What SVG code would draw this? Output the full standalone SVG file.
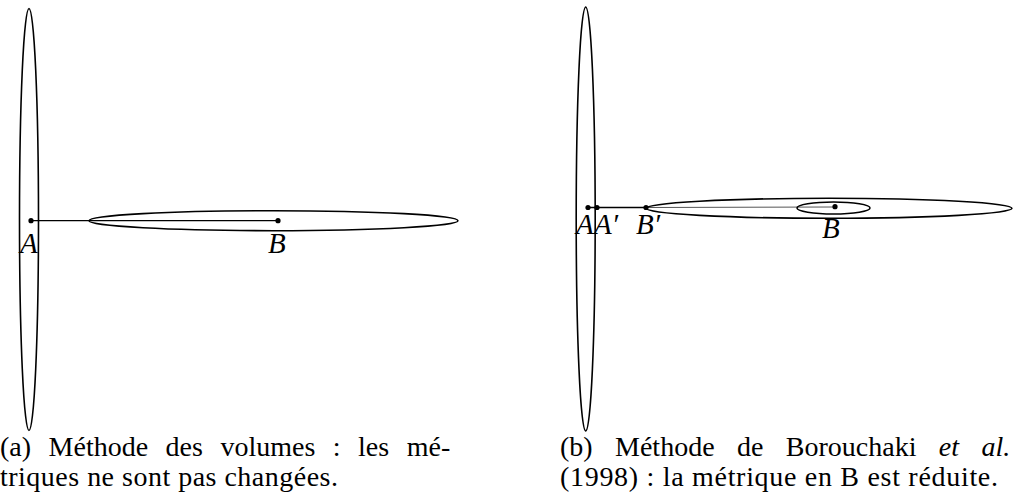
<svg xmlns="http://www.w3.org/2000/svg" width="1013" height="496" viewBox="0 0 1013 496">
<style>
.ell{fill:none;stroke:#000;stroke-width:1.6}
.ln{stroke:#000;stroke-width:1.3;fill:none}
.ln2{stroke:#555;stroke-width:1;fill:none}
.pt{fill:#000}
.lbl{font-family:'Liberation Serif','DejaVu Serif',serif;font-style:italic;font-size:29px;fill:#000}
.cap{font-family:'Liberation Serif','DejaVu Serif',serif;font-size:28px;fill:#000}
.it{font-style:italic}
</style>
<rect width="1013" height="496" fill="#fff"/>
<g id="connectors">
<line class="ln" x1="31" y1="220.7" x2="278" y2="220.7"/>
<line class="ln" x1="588" y1="207.5" x2="646" y2="207.5"/>
<line class="ln2" x1="646" y1="207.5" x2="835" y2="207"/>
</g>
<g id="panel-a">
<g id="metricA-a"><ellipse class="ell" cx="29" cy="219.5" rx="9.5" ry="211"/></g>
<g id="metricB-a"><ellipse class="ell" cx="273.5" cy="220.7" rx="184.5" ry="10"/></g>
<g id="A-a"><circle class="pt" cx="31" cy="220.7" r="2.6"/><text class="lbl" x="20" y="253">A</text></g>
<g id="B-a"><circle class="pt" cx="278" cy="220.7" r="2.6"/><text class="lbl" x="268" y="253">B</text></g>
<text class="cap" x="0" y="456" word-spacing="10.5">(a) Méthode des volumes : les mé-</text>
<text class="cap" x="0" y="486" textLength="338" lengthAdjust="spacing">triques ne sont pas changées.</text>
</g>
<g id="panel-b">
<g id="metricA-b"><ellipse class="ell" cx="585.7" cy="219" rx="9.5" ry="212"/></g>
<g id="metricB-b"><ellipse class="ell" cx="829" cy="208.3" rx="183" ry="10"/></g>
<g id="metricBr-b"><ellipse class="ell" cx="833.5" cy="208" rx="36.5" ry="6"/></g>
<g id="A-b"><circle class="pt" cx="588" cy="207.5" r="2.6"/><text class="lbl" x="576" y="234">A</text></g>
<g id="A2-b"><circle class="pt" cx="597" cy="207.5" r="2.6"/><text class="lbl" x="594" y="234">A′</text></g>
<g id="B2-b"><circle class="pt" cx="646" cy="207.5" r="2.6"/><text class="lbl" x="636" y="234">B′</text></g>
<g id="B-b"><circle class="pt" cx="835" cy="206.7" r="2.6"/><text class="lbl" x="822" y="238">B</text></g>
<text class="cap" x="560" y="456" word-spacing="15.4">(b) Méthode de Borouchaki <tspan class="it">et al.</tspan></text>
<text class="cap" x="560" y="486" textLength="438" lengthAdjust="spacing">(1998) : la métrique en B est réduite.</text>
</g>
</svg>
